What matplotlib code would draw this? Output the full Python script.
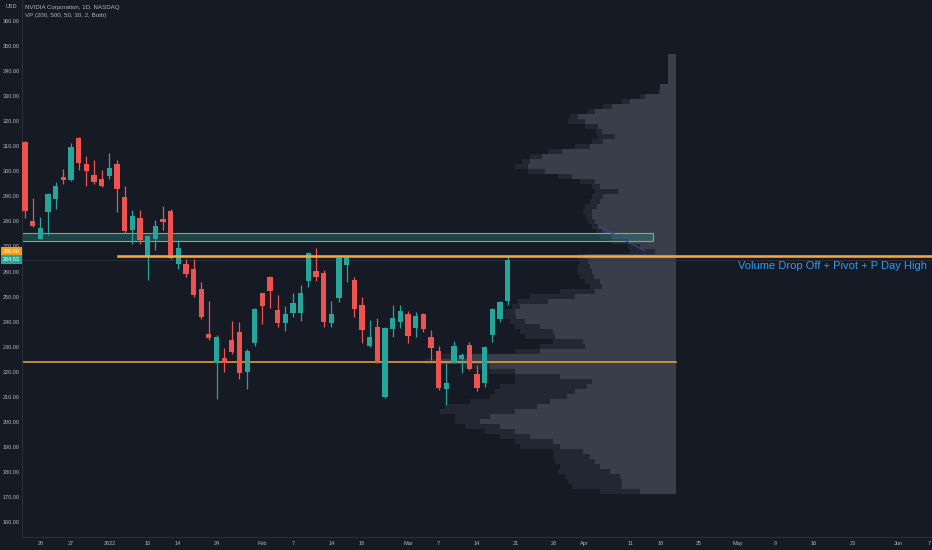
import numpy as np
import matplotlib
matplotlib.use('Agg')
import matplotlib.pyplot as plt
from matplotlib.patches import Rectangle

# ---- data (NVDA daily, Dec 16 2021 - Mar 18 2022) ----
opens = [311.7, 280.0, 273.1, 283.7, 288.8, 297.7, 296.7, 313.5, 303.1, 298.7, 297.1,
         298.1, 303.1, 289.7, 276.4, 281.5, 266.0, 273.1, 280.9, 284.1, 262.8,
         263.0, 261.0, 253.1, 235.0, 223.4, 225.6, 232.6, 235.9, 220.0, 231.5,
         251.3, 258.0, 244.7, 239.5, 243.3, 243.5, 256.3, 260.3, 259.3, 239.3,
         249.3, 262.6, 256.6, 246.6, 230.2, 238.0, 210.0, 237.1, 239.7, 243.1,
         237.3, 242.9, 234.0, 228.4, 212.9, 223.6, 225.1, 230.5, 218.9, 215.3,
         234.8, 241.0, 248.2]
highs = [312.2, 289.2, 281.7, 291.5, 295.7, 301.0, 311.3, 313.8, 306.0, 304.7, 300.4,
         307.5, 304.7, 294.0, 284.7, 284.4, 274.3, 280.4, 286.0, 285.1, 272.4,
         265.0, 265.0, 255.7, 248.4, 234.5, 229.3, 240.4, 240.0, 229.0, 245.5,
         251.5, 258.2, 250.8, 246.4, 251.5, 254.6, 267.8, 269.3, 260.7, 248.4,
         265.6, 266.0, 257.9, 250.0, 240.7, 241.5, 238.0, 246.8, 246.8, 244.1,
         243.7, 243.3, 236.7, 230.4, 223.6, 232.2, 227.5, 232.0, 222.6, 230.2,
         245.5, 248.3, 266.0]
lows = [281.3, 277.7, 272.8, 274.4, 285.1, 294.8, 296.0, 300.4, 294.0, 295.0, 293.8,
        297.0, 283.7, 275.5, 271.0, 271.0, 256.7, 268.4, 276.4, 264.8, 261.0,
        258.0, 250.0, 241.0, 232.7, 208.9, 219.9, 227.0, 217.0, 213.0, 230.4,
        239.0, 245.5, 237.7, 236.4, 242.0, 240.4, 254.0, 256.3, 237.7, 237.7,
        248.0, 255.7, 242.0, 231.3, 229.8, 223.5, 209.3, 233.7, 237.5, 231.3,
        234.0, 236.0, 224.7, 212.7, 206.7, 223.3, 219.3, 220.5, 212.4, 213.7,
        232.0, 240.0, 246.6]
closes = [284.1, 278.0, 277.3, 291.1, 294.1, 296.4, 309.7, 303.3, 300.1, 295.7, 294.1,
          301.3, 292.8, 276.1, 282.0, 272.4, 274.1, 278.3, 279.9, 265.5, 269.5,
          259.0, 250.6, 241.7, 233.3, 234.0, 223.4, 227.7, 219.4, 228.4, 245.0,
          246.3, 252.4, 239.3, 243.1, 247.3, 251.5, 267.3, 258.0, 239.7, 242.9,
          265.3, 265.3, 245.0, 236.6, 234.0, 223.7, 237.5, 241.5, 244.1, 234.4,
          242.4, 237.0, 229.3, 213.3, 215.3, 230.3, 226.7, 221.0, 213.3, 230.0,
          245.1, 247.7, 264.53]

# volume profile rows (price level, up volume, total volume) - arbitrary units
vp_price = list(range(346, 171, -2))
vp_up = [8, 8, 8, 8, 8, 8, 16, 16, 31, 46, 64, 81, 98, 91, 78, 74, 61, 73, 86, 114,
         134, 146, 148, 131, 104, 81, 76, 58, 73, 76, 79, 84, 84, 81, 78, 74, 64, 48,
         36, 21, 91, 88, 86, 84, 82, 76, 74, 81, 101, 128, 156, 161, 160, 151, 136,
         123, 121, 93, 91, 136, 206, 236, 186, 161, 116, 84, 89, 101, 109, 126, 139,
         161, 186, 196, 176, 161, 146, 123, 116, 93, 86, 81, 76, 66, 56, 54, 54, 36]
vp_total = [8, 8, 8, 8, 8, 8, 16, 18, 36, 54, 73, 88, 106, 108, 91, 80, 78, 84, 101,
            128, 146, 154, 161, 148, 118, 96, 84, 81, 84, 86, 91, 93, 90, 88, 84, 80,
            76, 64, 48, 46, 99, 96, 98, 99, 96, 91, 86, 116, 146, 159, 164, 171, 171,
            166, 161, 156, 151, 123, 136, 161, 236, 251, 216, 186, 161, 161, 176, 181,
            186, 206, 231, 236, 221, 221, 211, 191, 176, 161, 156, 123, 123, 121, 116,
            118, 111, 108, 104, 76]

tick_pos = [2, 6, 11, 16, 20, 25, 31, 35, 40, 44, 50, 54, 59, 64, 69, 73, 79, 83, 88,
            93, 98, 103, 108, 114, 118]
tick_lab = ['20', '27', '2022', '10', '14', '24', 'Feb', '7', '14', '18', 'Mar', '7',
            '14', '21', '28', 'Apr', '11', '18', '25', 'May', '9', '16', '23', 'Jun', '7']

pivot_level = 266.0
poc_level = 224.0
zone_low, zone_high = 272.3, 275.2
last_price = closes[-1]

# ---- style ----
bg = '#161a25'
txt = '#b2b5be'
up_col = '#26a69a'
dn_col = '#ef5350'
orange = '#f0a83a'
small = dict(family=['Liberation Sans', 'DejaVu Sans'], fontsize=4.0)

W, H = 932, 550
fig = plt.figure(figsize=(W / 100, H / 100), dpi=100)
fig.patch.set_facecolor(bg)
ax = fig.add_axes([22 / W, 13 / H, 910 / W, 537 / H])
ax.set_facecolor(bg)
ax.set_xlim(-0.39, 118.4)
ax.set_ylim(154.0, 368.4)

# volume profile anchored at bar 85, extending left
vp_anchor = 85.0
vp_maxw = 32.8
scale = vp_maxw / max(vp_total)
tot_w = np.array(vp_total) * scale
up_w = np.array(vp_up) * scale
ax.barh(vp_price, tot_w, left=vp_anchor - tot_w, height=2.0, color='#232733', zorder=1)
ax.barh(vp_price, up_w, left=vp_anchor - up_w, height=2.0, color='#3a3d4a', zorder=1.1)

# levels
ax.add_patch(Rectangle((-0.39, zone_low), 82.4, zone_high - zone_low,
                       facecolor=up_col, alpha=0.3, edgecolor='none', zorder=2))
ax.add_patch(Rectangle((-0.39, zone_low), 82.4, zone_high - zone_low,
                       facecolor='none', edgecolor='#b89a3c', lw=0.8, zorder=2.1))
ax.plot([-0.39, vp_anchor], [poc_level, poc_level], color=orange, lw=1.1, zorder=2.2)
ax.plot([12.1, 118.4], [pivot_level, pivot_level], color=orange, lw=1.9, zorder=4)
ax.axhline(last_price, color='#2c303c', lw=0.6, zorder=1.5)
ax.plot([75.1, 80.9], [277.8, 268.2], color='#2f4aa0', lw=0.8, zorder=2.3)

# candles
idx = np.arange(len(closes))
o = np.array(opens); c = np.array(closes)
cols = [up_col if cc >= oo else dn_col for oo, cc in zip(o, c)]
ax.vlines(idx, lows, highs, colors=cols, lw=0.9, zorder=3)
body_h = np.maximum(np.abs(c - o), 0.5)
ax.bar(idx, body_h, bottom=np.minimum(o, c), width=0.69, color=cols, zorder=3.1)

ax.text(117.75, 262.2, 'Volume Drop Off + Pivot + P Day High', color='#2e9bf0',
        fontsize=8.0, ha='right', va='center', family=['Liberation Sans', 'DejaVu Sans'])

# axes
ax.set_yticks(range(160, 361, 10))
ax.set_yticklabels([f'{v:.2f}' for v in range(160, 361, 10)], ha='center', **small)
ax.set_xticks(tick_pos)
ax.set_xticklabels(tick_lab, **small)
ax.tick_params(axis='both', length=0, colors=txt)
ax.tick_params(axis='y', pad=7.9)
ax.tick_params(axis='x', pad=3)
for s in ['top', 'right']:
    ax.spines[s].set_visible(False)
for s in ['left', 'bottom']:
    ax.spines[s].set_color('#2a2e39')
    ax.spines[s].set_linewidth(0.8)

# header and axis badges
fig.text(25 / W, 1 - 7 / H, 'NVIDIA Corporation, 1D, NASDAQ', color=txt, va='center',
         family=['Liberation Sans', 'DejaVu Sans'], fontsize=4.4)
fig.text(25 / W, 1 - 15.5 / H, 'VP (200, 500, 50, 30, 2, Both)', color=txt, va='center',
         family=['Liberation Sans', 'DejaVu Sans'], fontsize=4.4)
fig.text(11 / W, 1 - 7 / H, 'USD', color=txt, va='center', ha='center', **small)
fig.text(11.5 / W, 1 - 251.7 / H, f'{pivot_level:.2f}', color='white', va='center',
         ha='center', bbox=dict(boxstyle='square,pad=0.35', fc='#f29d12', ec='none'), **small)
fig.text(11.5 / W, 1 - 259.3 / H, f'{last_price:.2f}', color='white', va='center',
         ha='center', bbox=dict(boxstyle='square,pad=0.35', fc=up_col, ec='none'), **small)

fig.savefig('out.png', dpi=100, facecolor=bg)
